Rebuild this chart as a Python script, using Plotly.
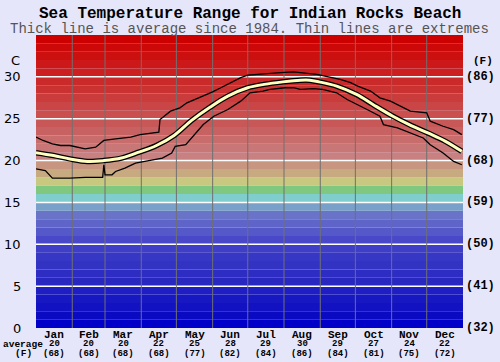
import plotly.graph_objects as go

# ---------------- data ----------------
months = ["Jan", "Feb", "Mar", "Apr", "May", "Jun", "Jul", "Aug", "Sep", "Oct", "Nov", "Dec"]
month_avg_c = [20, 20, 20, 22, 25, 28, 29, 30, 29, 27, 24, 22]
month_avg_f = [68, 68, 68, 68, 77, 82, 84, 86, 84, 81, 75, 72]
month_start_day = [0, 31, 59, 90, 120, 151, 181, 212, 243, 273, 304, 334, 365]

c_ticks = [0, 5, 10, 15, 20, 25, 30]
f_labels = ["(32)", "(41)", "(50)", "(59)", "(68)", "(77)", "(86)"]

avg_days = [0, 15, 29, 44, 58, 73, 88, 103, 118, 133, 149, 164, 181, 195, 211, 226, 234,
            242, 257, 274, 288, 305, 319, 335, 350, 364]
avg_temp = [20.95, 20.6, 20.2, 19.9, 20.0, 20.3, 21.0, 21.8, 23.0, 24.8, 26.4, 27.7, 28.7,
            29.1, 29.4, 29.6, 29.6, 29.4, 28.9, 27.9, 26.7, 25.3, 24.3, 23.3, 22.3, 21.1]

max_days = [0, 6, 14, 21, 29, 42, 51, 58, 68, 81, 89, 98, 105, 106, 115, 123, 129, 136, 143,
            151, 158, 169, 175, 181, 194, 209, 220, 229, 240, 247, 260, 269, 275, 286, 294,
            303, 311, 320, 334, 337, 348, 357, 364]
max_temp = [22.8, 22.4, 22.0, 21.8, 21.8, 21.4, 21.6, 22.4, 22.6, 22.8, 23.1, 23.3, 23.4,
            24.9, 25.9, 26.3, 26.9, 27.3, 27.7, 28.2, 28.7, 29.5, 29.9, 30.2, 30.3, 30.5,
            30.6, 30.5, 30.3, 30.1, 29.7, 29.3, 28.9, 28.3, 27.5, 27.1, 26.5, 25.9, 25.7,
            24.7, 24.1, 23.7, 23.1]

min_days = [0, 8, 14, 29, 42, 57, 58, 59, 65, 68, 76, 85, 93, 102, 108, 116, 119, 128, 136,
            143, 152, 158, 164, 175, 183, 194, 200, 213, 220, 226, 237, 245, 257, 266, 275,
            283, 294, 297, 309, 320, 331, 337, 348, 357, 364]
min_temp = [19.0, 18.8, 17.9, 17.9, 18.0, 18.0, 19.5, 18.3, 18.3, 18.7, 19.1, 19.7, 19.9,
            20.1, 20.3, 20.9, 21.7, 21.9, 23.2, 24.3, 25.3, 25.7, 26.1, 27.1, 28.1, 28.3,
            28.5, 28.7, 28.7, 28.5, 28.6, 28.5, 28.1, 27.3, 26.7, 26.1, 25.3, 24.3, 23.9,
            23.3, 22.7, 21.9, 20.9, 19.9, 19.5]

# colour of each 1 degree band, 0..34 C
band_colors = [
    (0, 0, 200), (10, 10, 195), (18, 18, 195), (24, 24, 195), (30, 30, 195),
    (40, 40, 192), (45, 45, 195), (50, 50, 195), (55, 55, 198), (62, 62, 198),
    (72, 72, 200), (85, 88, 200), (95, 100, 200), (105, 115, 200), (120, 160, 200),
    (128, 205, 205), (128, 200, 128), (200, 200, 128), (200, 170, 128), (200, 150, 128),
    (200, 128, 128), (200, 118, 118), (200, 108, 108), (200, 98, 98), (200, 88, 88),
    (202, 80, 80), (202, 70, 70), (202, 60, 60), (202, 50, 50), (202, 42, 42),
    (204, 32, 32), (204, 24, 24), (204, 16, 16), (204, 8, 8), (205, 0, 0),
]

BG = "#E6E6FA"
MONO = "Liberation Mono, Courier New, monospace"
SANS = "DejaVu Sans, Verdana, sans-serif"

fig = go.Figure()

# average line: black outline + pale yellow core
fig.add_trace(go.Scatter(x=avg_days, y=avg_temp, mode="lines", line=dict(color="black", width=5.5, shape="spline"),
                         hoverinfo="skip", showlegend=False))
fig.add_trace(go.Scatter(x=max_days, y=max_temp, mode="lines", line=dict(color="black", width=1.3),
                         hoverinfo="skip", showlegend=False))
fig.add_trace(go.Scatter(x=min_days, y=min_temp, mode="lines", line=dict(color="black", width=1.3),
                         hoverinfo="skip", showlegend=False))
fig.add_trace(go.Scatter(x=avg_days, y=avg_temp, mode="lines", line=dict(color="#FFFFC0", width=3, shape="spline"),
                         hoverinfo="skip", showlegend=False))

shapes = []
for i, (r, g, b) in enumerate(band_colors):
    shapes.append(dict(type="rect", xref="x", yref="y", x0=0, x1=365, y0=i, y1=i + 1,
                       fillcolor=f"rgb({r},{g},{b})", line=dict(width=0), layer="below"))
for t in c_ticks[1:]:
    shapes.append(dict(type="line", xref="x", yref="y", x0=0, x1=365, y0=t, y1=t,
                       line=dict(color="white", width=1.5), layer="below"))
for d in month_start_day[1:-1]:
    shapes.append(dict(type="line", xref="x", yref="y", x0=d, x1=d, y0=0, y1=35,
                       line=dict(color="#707070", width=1), layer="below"))

ann = []
# title & subtitle
ann.append(dict(text="<b>Sea Temperature Range for Indian Rocks Beach</b>", xref="paper", yref="paper",
                x=0.5, y=1, yanchor="middle", yshift=21, showarrow=False,
                font=dict(family=MONO, size=16, color="black"), xanchor="center"))
ann.append(dict(text="Thick line is average since 1984. Thin lines are extremes", xref="paper", yref="paper",
                x=0.5, y=1, yanchor="middle", yshift=6, showarrow=False,
                font=dict(family=MONO, size=14, color="#555555"), xanchor="center"))
# left C axis
for t in c_ticks:
    ann.append(dict(text=str(t), xref="paper", yref="y", x=0, y=t, xanchor="right", xshift=-13,
                    showarrow=False, font=dict(family=SANS, size=13, color="black")))
ann.append(dict(text="C", xref="paper", yref="y", x=0, y=31.9, xanchor="right", xshift=-14,
                showarrow=False, font=dict(family=SANS, size=13, color="black")))
# right F axis
for t, lab in zip(c_ticks, f_labels):
    ann.append(dict(text=f"<b>{lab}</b>", xref="paper", yref="y", x=1, y=t, xanchor="left", xshift=1,
                    showarrow=False, font=dict(family=MONO, size=12, color="black")))
ann.append(dict(text="<b>(F)</b>", xref="paper", yref="y", x=1, y=31.85, xanchor="left", xshift=8,
                showarrow=False, font=dict(family=MONO, size=11, color="black")))
# month labels
for i, m in enumerate(months):
    mid = (month_start_day[i] + month_start_day[i + 1]) / 2
    ann.append(dict(text=f"<b>{m}</b>", xref="x", yref="paper", x=mid, y=0, yanchor="middle", yshift=-6.5,
                    showarrow=False, borderpad=0, font=dict(family=MONO, size=11, color="black")))
    ann.append(dict(text=f"<b>{month_avg_c[i]}</b>", xref="x", yref="paper", x=mid, y=0, yanchor="middle",
                    yshift=-16.2, showarrow=False, borderpad=0, font=dict(family=MONO, size=9, color="black")))
    ann.append(dict(text=f"<b>({month_avg_f[i]})</b>", xref="x", yref="paper", x=mid, y=0, yanchor="middle",
                    yshift=-25.7, showarrow=False, borderpad=0, font=dict(family=MONO, size=9, color="black")))
ann.append(dict(text="<b>average</b>", xref="paper", yref="paper", x=0, y=0, xanchor="center", xshift=-13,
                yanchor="middle", yshift=-16.2, showarrow=False, borderpad=0,
                font=dict(family=MONO, size=9.5, color="black")))
ann.append(dict(text="<b>(F)</b>", xref="paper", yref="paper", x=0, y=0, xanchor="center", xshift=-13,
                yanchor="middle", yshift=-25.7, showarrow=False, borderpad=0,
                font=dict(family=MONO, size=9.5, color="black")))

fig.update_layout(
    width=500, height=362,
    margin=dict(l=36, r=37, t=35, b=34, pad=0),
    paper_bgcolor=BG, plot_bgcolor=BG,
    shapes=shapes, annotations=ann,
    xaxis=dict(range=[0, 365], showgrid=False, zeroline=False, showticklabels=False, ticks="", fixedrange=True),
    yaxis=dict(range=[0, 35], showgrid=False, zeroline=False, showticklabels=False, ticks="", fixedrange=True),
    showlegend=False,
)

fig.write_html(
    "out.html",
    config={"displayModeBar": False},
    post_script="document.body.style.margin='0';document.body.style.background='#E6E6FA';",
)
